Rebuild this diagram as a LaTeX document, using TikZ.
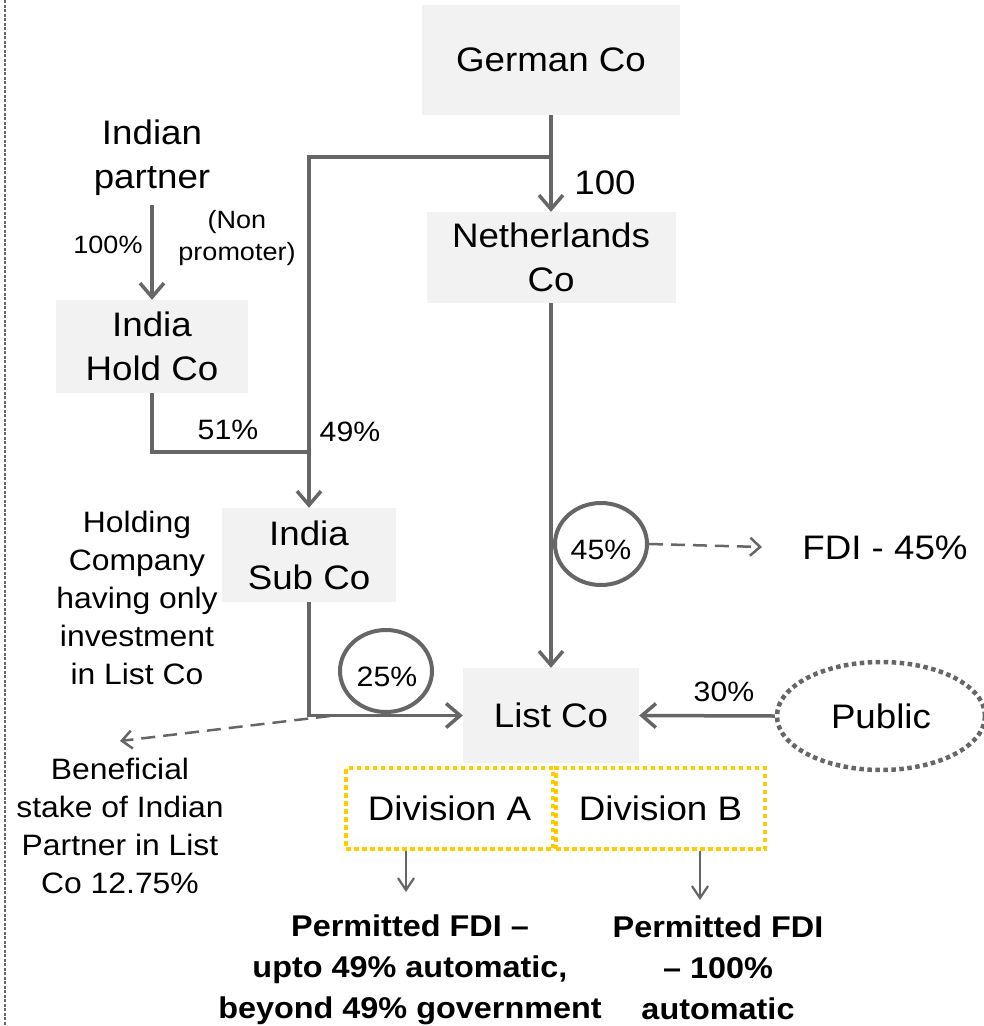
\documentclass[tikz,border=0pt]{standalone}
\usepackage{fontspec}
\setmainfont{Liberation Sans}[FakeStretch=1.08]
\usetikzlibrary{arrows.meta,shapes.geometric}
\definecolor{linegray}{HTML}{666666}
\definecolor{boxgray}{HTML}{F2F2F2}
\definecolor{divyellow}{HTML}{FFCC00}
\begin{document}
\begin{tikzpicture}[x=1pt,y=-1pt,
  co/.style={fill=boxgray, inner sep=0pt, align=center, font=\fontsize{34}{44}\selectfont},
  txt/.style={inner sep=0pt, align=center, font=\fontsize{34}{44}\selectfont},
  pct/.style={inner sep=0pt, font=\fontsize{28}{32}\selectfont},
  small/.style={inner sep=0pt, align=center, font=\fontsize{25}{32}\selectfont},
  note/.style={inner sep=0pt, align=center, font=\fontsize{29.5}{38}\selectfont},
  bnote/.style={inner sep=0pt, align=center, font=\fontsize{30}{41}\selectfont\bfseries},
  conn/.style={draw=linegray, line width=3.5pt},
  arr/.style={conn, -{Straight Barb[length=14pt,width=24pt]}},
  dasharr/.style={draw=linegray, line width=2.5pt, dash pattern=on 14pt off 8pt, -{Straight Barb[length=10pt,width=18pt]}},
  divarr/.style={draw=linegray, line width=2.2pt, -{Straight Barb[length=12pt,width=16pt]}},
  ring/.style={ellipse, draw=linegray, line width=4pt, fill=white, inner sep=0pt},
  division/.style={draw=divyellow, line width=4.5pt, dash pattern=on 4.5pt off 3.5pt, inner sep=0pt, font=\fontsize{34}{44}\selectfont},
  border/.style={draw=linegray, line width=1.2pt, dash pattern=on 3pt off 1.5pt},
]
\useasboundingbox (0,0) rectangle (984,1026);

% left border
\coordinate (bt) at (5,0);
\coordinate (bb) at (5,1026);
\draw[border] (bt) -- (bb);

% boxes
\node[co, minimum width=258pt, minimum height=110pt] (german) at (551,60) {German Co};
\node[co, minimum width=249pt, minimum height=91pt] (neth) at (551,257.5) {Netherlands\\Co};
\node[co, minimum width=192pt, minimum height=93pt] (hold) at (152,346.5) {India\\Hold Co};
\node[co, minimum width=174pt, minimum height=94pt] (sub) at (309,555) {India\\Sub Co};
\node[co, minimum width=176pt, minimum height=95pt] (list) at (551,715.5) {List Co};
\node[txt] (indian) at (152,158) {Indian\\partner};
\node[ellipse, draw=linegray, line width=4.5pt, dash pattern=on 4.5pt off 3.5pt, minimum width=208pt, minimum height=108pt, inner sep=0pt, font=\fontsize{34}{44}\selectfont] (public) at (881,716) {Public};
\node[division, minimum width=207pt, minimum height=81pt] (divA) at (449.5,808.5) {Division A};
\node[division, minimum width=209pt, minimum height=81pt] (divB) at (660.5,808.5) {Division B};

% connectors
\coordinate (jg) at (551,157);
\coordinate (jh) at (309,452);
\coordinate (bstart) at (330,716);
\coordinate (fdiend) at (762,547);
\coordinate (benefend) at (120,741);
\coordinate (a1) at (406,892);
\coordinate (a2) at (700,900);

\draw[arr] (german.south) -- (neth.north);
\draw[arr] (jg) -| (sub.north);
\draw[arr] ([yshift=-9pt]indian.south) -- (hold.north);
\draw[conn] (hold.south) |- (jh);
\draw[arr] (sub.south) |- (list.west);
\draw[arr] (neth.south) -- (list.north);
\draw[arr] (public.west) -- (list.east);
\draw[dasharr] (bstart) -- (benefend);
\draw[divarr] (divA.south -| a1) -- (a1);
\draw[divarr] (divB.south -| a2) -- (a2);

% rings
\node[ring, minimum width=92pt, minimum height=82pt] (r45) at (601,544) {};
\node[pct] (t45) at (601,550) {45\%};
\node[ring, minimum width=92pt, minimum height=82pt] (r25) at (386,671) {};
\node[pct] (t25) at (387,677) {25\%};
\draw[dasharr] (r45.east) -- (fdiend);

% labels
\node[txt] (l100) at (605,183) {100};
\node[small] (nonprom) at (237,238) {(Non\\promoter)};
\node[small] (l100p) at (108,245) {100\%};
\node[pct] (l51) at (228,430) {51\%};
\node[pct] (l49) at (350,432) {49\%};
\node[pct] (l30) at (724,692) {30\%};
\node[txt] (fdi) at (885,548) {FDI - 45\%};
\node[note] (holdnote) at (137,598) {Holding\\Company\\having only\\investment\\in List Co};
\node[note] (benef) at (120,826) {Beneficial\\stake of Indian\\Partner in List\\Co 12.75\%};
\node[bnote] (perm1) at (410,970) {Permitted FDI –\\upto 49\% automatic,\\beyond 49\% government};
\node[bnote] (perm2) at (718,968) {Permitted FDI\\– 100\%\\automatic};
\end{tikzpicture}
\end{document}
